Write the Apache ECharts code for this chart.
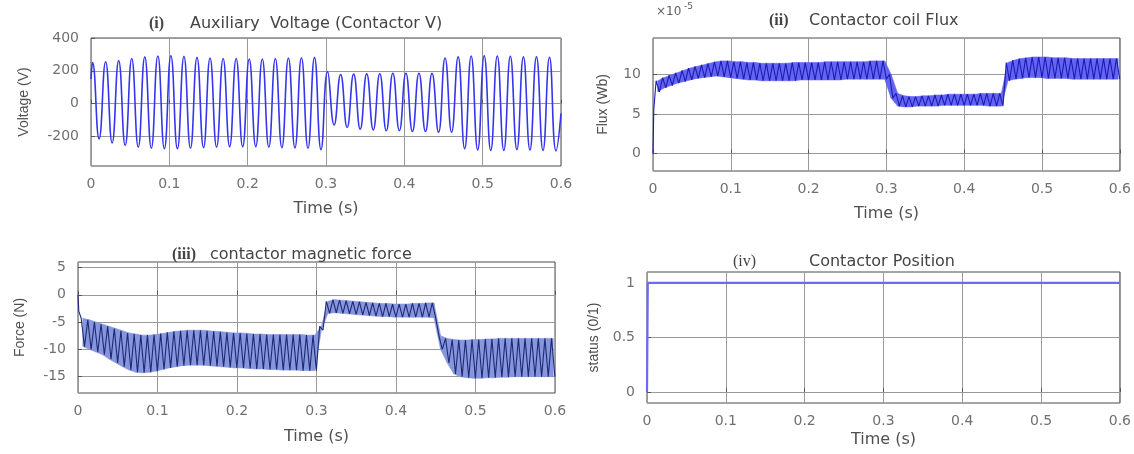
<!DOCTYPE html>
<html>
<head>
<meta charset="utf-8">
<script src="https://cdn.jsdelivr.net/npm/echarts@6/dist/echarts.min.js"></script>
<style>
  html, body { margin: 0; padding: 0; background: #fff; }
  #main { width: 1134px; height: 454px; }
</style>
</head>
<body>
<div id="main"></div>
<script>
// x axis
const timeTicks = [0, 0.1, 0.2, 0.3, 0.4, 0.5, 0.6];

// (i) voltage: positive peaks / negative troughs of each 60 Hz cycle (V)
const voltPeaks = [250, 255, 262, 275, 285, 290, 292, 288, 282, 278, 275, 275,
    272, 272, 275, 278, 280, 282, 195, 178, 180, 182, 182, 185,
    185, 185, 185, 278, 285, 290, 292, 290, 288, 285, 285, 283];
const voltTroughs = [-215, -240, -255, -265, -272, -275, -275, -272, -268, -265, -262, -262,
    -262, -265, -268, -270, -272, -280, -130, -145, -155, -160, -165, -165,
    -170, -170, -175, -175, -275, -282, -285, -285, -280, -282, -285, -288];
const voltStart = [0, 150];
const voltEnd = [0.6, -60];
const voltTicks = [-200, 0, 200, 400];

// (ii) flux ripple (x1e-5 Wb): upper and lower value of each 120 Hz ripple
const fluxHigh = [9.2, 9.6, 9.9, 10.2, 10.5, 10.8, 11.0, 11.2, 11.4, 11.6, 11.7, 11.7,
    11.6, 11.6, 11.5, 11.5, 11.4, 11.4, 11.4, 11.4, 11.4, 11.5, 11.5, 11.5,
    11.5, 11.5, 11.6, 11.6, 11.6, 11.6, 11.6, 11.6, 11.6, 11.7, 11.7, 11.7,
    10.0, 7.6, 7.3, 7.2, 7.2, 7.3, 7.3, 7.4, 7.4, 7.5, 7.5, 7.5,
    7.5, 7.5, 7.6, 7.6, 7.6, 7.6, 11.5, 11.8, 12.0, 12.1, 12.2, 12.2,
    12.2, 12.1, 12.1, 12.1, 12.0, 12.0, 12.0, 12.0, 12.0, 12.0, 12.0, 12.0];
const fluxLow = [7.8, 8.3, 8.6, 8.9, 9.1, 9.3, 9.5, 9.6, 9.7, 9.8, 9.7, 9.6,
    9.5, 9.4, 9.3, 9.3, 9.2, 9.2, 9.2, 9.2, 9.2, 9.2, 9.3, 9.3,
    9.3, 9.3, 9.3, 9.3, 9.3, 9.4, 9.4, 9.4, 9.4, 9.4, 9.4, 9.4,
    7.0, 6.0, 5.9, 5.9, 6.0, 6.0, 6.0, 6.0, 6.1, 6.1, 6.1, 6.1,
    6.1, 6.1, 6.1, 6.0, 6.0, 6.0, 9.2, 9.4, 9.5, 9.6, 9.6, 9.6,
    9.5, 9.5, 9.5, 9.5, 9.4, 9.4, 9.4, 9.4, 9.4, 9.4, 9.4, 9.4];
const fluxStart = [[0, 0], [0.001, 5.5]];
const fluxTicks = [0, 5, 10];

// (iii) magnetic force ripple (N)
const forceHigh = [-4.3, -4.6, -5.0, -5.4, -5.8, -6.2, -6.6, -7.0, -7.2, -7.4, -7.4, -7.3,
    -7.1, -6.9, -6.7, -6.6, -6.5, -6.5, -6.5, -6.6, -6.7, -6.8, -6.9, -7.0,
    -7.0, -7.1, -7.2, -7.2, -7.3, -7.3, -7.3, -7.3, -7.3, -7.3, -7.4, -7.4,
    -5.8, -1.2, -0.9, -1.0, -1.1, -1.2, -1.3, -1.4, -1.5, -1.6, -1.6, -1.7,
    -1.7, -1.7, -1.6, -1.6, -1.5, -1.5, -7.5, -8.0, -8.2, -8.3, -8.3, -8.2,
    -8.2, -8.1, -8.1, -8.0, -8.0, -8.0, -8.0, -8.0, -8.0, -8.0, -8.0, -8.0];
const forceLow = [-9.5, -10.0, -10.5, -11.0, -11.8, -12.5, -13.2, -13.8, -14.2, -14.3, -14.2, -14.0,
    -13.7, -13.4, -13.2, -13.0, -12.9, -12.9, -12.9, -13.0, -13.1, -13.2, -13.3, -13.4,
    -13.4, -13.5, -13.6, -13.6, -13.7, -13.7, -13.8, -13.8, -13.8, -13.9, -13.9, -13.9,
    -6.5, -3.4, -3.3, -3.4, -3.5, -3.6, -3.7, -3.8, -3.9, -4.0, -4.0, -4.1,
    -4.1, -4.1, -4.1, -4.1, -4.1, -4.2, -10.0, -12.5, -14.5, -15.0, -15.2, -15.3,
    -15.3, -15.2, -15.2, -15.1, -15.1, -15.0, -15.0, -15.0, -15.0, -15.0, -15.0, -15.0];
const forceStart = [[0, 0], [0.001, -3]];
const forceTicks = [-15, -10, -5, 0, 5];

// (iv) contactor position
const posTime = [0, 0.001, 0.6];
const posValue = [0, 1, 1];
const posTicks = [0, 0.5, 1];

// alternate the upper and lower values along time, half a period apart
function ripple(t0, period, high, low) {
    let pts = [];
    for (let k = 0; k < high.length; k++) {
        pts.push([t0 + k * period, high[k]]);
        pts.push([t0 + k * period + period / 2, low[k]]);
    }
    return pts;
}

// band segments between consecutive ripples: [t, low, high, tNext, lowNext, highNext]
function band(t0, period, high, low) {
    let segs = [];
    for (let k = 0; k < high.length - 1; k++) {
        let t = t0 + k * period + period / 4;
        segs.push([t, low[k], high[k], t + period, low[k + 1], high[k + 1]]);
    }
    return segs;
}

const voltData = [voltStart].concat(ripple(0.002, 1 / 60, voltPeaks, voltTroughs), [voltEnd]);
const fluxData = fluxStart.concat(ripple(0.004, 1 / 120, fluxHigh, fluxLow));
const forceData = forceStart.concat(ripple(0.004, 1 / 120, forceHigh, forceLow));
const posData = posTime.map((t, i) => [t, posValue[i]]);

var myChart = echarts.init(document.getElementById('main'));

const hFont = 'DejaVu Sans';
const vFont = 'Liberation Sans';

function xAxisOf(idx, gap) {
    return {
        type: 'value', gridIndex: idx, min: 0, max: 0.6, interval: 0.1,
        name: 'Time (s)', nameLocation: 'middle', nameGap: gap,
        nameTextStyle: { fontFamily: hFont, fontSize: 16, color: '#505050' },
        axisLine: { show: false },
        axisTick: { inside: true, length: 4, lineStyle: { color: '#555' } },
        axisLabel: {
            margin: 11, fontFamily: hFont, fontSize: 14, color: '#707070',
            formatter: v => String(+v.toFixed(1))
        },
        splitLine: { show: true, lineStyle: { color: '#999', width: 1 } }
    };
}

function yAxisOf(idx, min, max, ticks, name, gap) {
    return {
        type: 'value', gridIndex: idx, min: min, max: max,
        name: name, nameLocation: 'middle', nameGap: gap,
        nameTextStyle: { fontFamily: vFont, fontSize: 14, color: '#505050' },
        axisLine: { show: false },
        axisTick: { inside: true, length: 4, customValues: ticks, lineStyle: { color: '#555' } },
        axisLabel: {
            margin: 12, fontFamily: hFont, fontSize: 14, color: '#707070', customValues: ticks
        },
        splitLine: { show: true, lineStyle: { color: '#999', width: 1 } }
    };
}

function bandSeries(axis, segs, fill) {
    return {
        type: 'custom', xAxisIndex: axis, yAxisIndex: axis, data: segs, z: 1,
        encode: { x: [0, 3], y: [1, 2, 4, 5] },
        renderItem: function (params, api) {
            let pts = [
                api.coord([api.value(0), api.value(1)]),
                api.coord([api.value(0), api.value(2)]),
                api.coord([api.value(3), api.value(5)]),
                api.coord([api.value(3), api.value(4)])
            ];
            return {
                type: 'polygon', shape: { points: pts },
                style: { fill: fill, stroke: fill, lineWidth: 0.6 }
            };
        }
    };
}

const gridStyle = { show: true, borderColor: '#4a4a4a', borderWidth: 1, backgroundColor: '#fff' };
const labelStyle = { fontFamily: 'Liberation Serif', fontWeight: 'bold', fontSize: 16, color: '#444' };
const titleStyle = { fontFamily: hFont, fontWeight: 'normal', fontSize: 16, color: '#444' };

var option = {
    animation: false,
    backgroundColor: '#fff',
    title: [
        { text: '(i)', left: 144, top: 11, textStyle: labelStyle },
        { text: 'Auxiliary  Voltage (Contactor V)', left: 185, top: 11, textStyle: titleStyle },
        { text: '(ii)', left: 764, top: 8, textStyle: labelStyle },
        { text: 'Contactor coil Flux', left: 804, top: 8, textStyle: titleStyle },
        { text: '(iii)', left: 167, top: 242, textStyle: labelStyle },
        { text: 'contactor magnetic force', left: 205, top: 242, textStyle: titleStyle },
        { text: '(iv)', left: 728, top: 249, textStyle: Object.assign({}, labelStyle, { fontWeight: 'normal' }) },
        { text: 'Contactor Position', left: 804, top: 249, textStyle: titleStyle }
    ],
    graphic: [
        { type: 'text', left: 656, top: 6, style: { text: '×10', font: '12px DejaVu Sans', fill: '#606060' } },
        { type: 'text', left: 684, top: 2, style: { text: '-5', font: '9px DejaVu Sans', fill: '#606060' } }
    ],
    grid: [
        Object.assign({ left: 91, top: 38, width: 470, height: 128 }, gridStyle),
        Object.assign({ left: 653, top: 38, width: 469, height: 133 }, gridStyle),
        Object.assign({ left: 78, top: 262, width: 477, height: 131 }, gridStyle),
        Object.assign({ left: 647, top: 272, width: 476, height: 131 }, gridStyle)
    ],
    xAxis: [xAxisOf(0, 35), xAxisOf(1, 35), xAxisOf(2, 36), xAxisOf(3, 29)],
    yAxis: [
        yAxisOf(0, -380, 400, voltTicks, 'Voltage (V)', 60),
        yAxisOf(1, -2.2, 14.6, fluxTicks, 'Flux (Wb)', 43),
        yAxisOf(2, -18, 6, forceTicks, 'Force (N)', 51),
        yAxisOf(3, -0.1, 1.1, posTicks, 'status (0/1)', 46)
    ],
    series: [
        {
            type: 'line', xAxisIndex: 0, yAxisIndex: 0, data: voltData, smooth: 0.5,
            showSymbol: false, lineStyle: { color: '#3535ee', width: 1.6 }, z: 3
        },
        bandSeries(1, band(0.004, 1 / 120, fluxHigh, fluxLow), '#6464f2'),
        {
            type: 'line', xAxisIndex: 1, yAxisIndex: 1, data: fluxData,
            showSymbol: false, lineStyle: { color: '#1c1cb4', width: 1.1 }, z: 3
        },
        bandSeries(2, band(0.004, 1 / 120, forceHigh, forceLow), '#8796dc'),
        {
            type: 'line', xAxisIndex: 2, yAxisIndex: 2, data: forceData,
            showSymbol: false, lineStyle: { color: '#1d2a78', width: 1.1 }, z: 3
        },
        {
            type: 'line', xAxisIndex: 3, yAxisIndex: 3, data: posData,
            showSymbol: false, lineStyle: { color: '#6a6af5', width: 2.2 }, z: 3
        }
    ]
};

myChart.setOption(option);
window.addEventListener('resize', myChart.resize);
</script>
</body>
</html>
